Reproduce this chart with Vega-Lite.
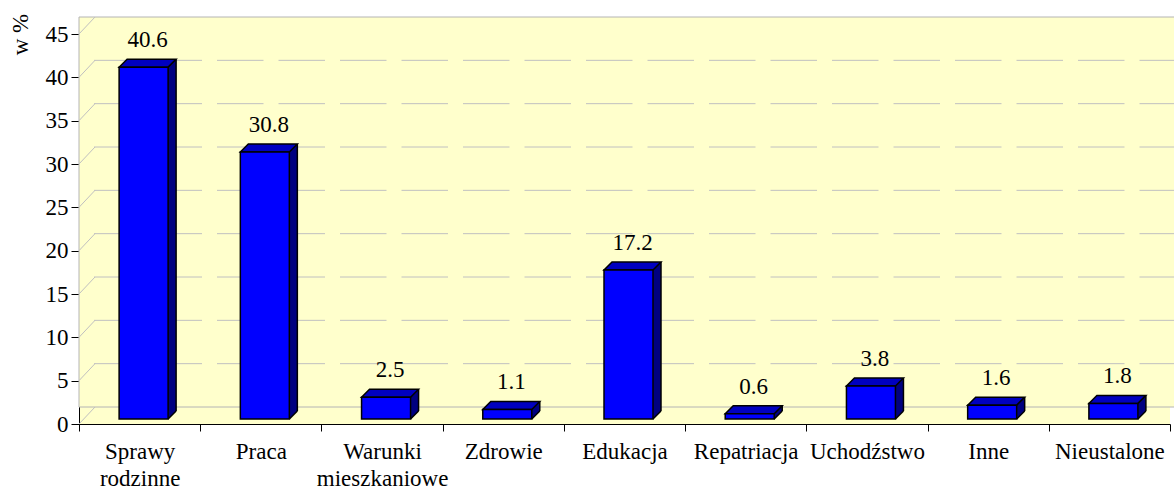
{
  "$schema": "https://vega.github.io/schema/vega-lite/v6.json",
  "width": 1091,
  "height": 390,
  "autosize": {"type": "none"},
  "padding": {"left": 79, "top": 34, "right": 4, "bottom": 67},
  "background": "white",
  "config": {
    "view": {"stroke": null, "fill": "#FFFFCC"},
    "font": "Liberation Serif",
    "text": {"font": "Liberation Serif", "fontWeight": "normal"},
    "axis": {
      "labelFont": "Liberation Serif",
      "titleFont": "Liberation Serif",
      "labelFontWeight": "normal",
      "titleFontWeight": "normal",
      "labelColor": "black",
      "titleColor": "black",
      "labelFontSize": 23,
      "titleFontSize": 23,
      "domainColor": "black",
      "tickColor": "black",
      "grid": false
    }
  },
  "datasets": {
    "bars": [
      {"k": "Sprawy rodzinne", "v": 40.6},
      {"k": "Praca", "v": 30.8},
      {"k": "Warunki mieszkaniowe", "v": 2.5},
      {"k": "Zdrowie", "v": 1.1},
      {"k": "Edukacja", "v": 17.2},
      {"k": "Repatriacja", "v": 0.6},
      {"k": "Uchodźstwo", "v": 3.8},
      {"k": "Inne", "v": 1.6},
      {"k": "Nieustalone", "v": 1.8}
    ],
    "grid": [{"g": 5}, {"g": 10}, {"g": 15}, {"g": 20}, {"g": 25}, {"g": 30}, {"g": 35}, {"g": 40}],
    "walls": [{"g": 0}, {"g": 5}, {"g": 10}, {"g": 15}, {"g": 20}, {"g": 25}, {"g": 30}, {"g": 35}, {"g": 40}, {"g": 45}],
    "one": [{"g": 45}]
  },
  "layer": [
    {
      "data": {"name": "one"},
      "mark": {"type": "rect", "fill": "#FFFFCC", "stroke": "#B4B4B4", "strokeWidth": 1, "xOffset": 16, "x2Offset": 16, "yOffset": -17, "y2Offset": -17},
      "encoding": {
        "y": {"field": "g", "type": "quantitative", "scale": {"domain": [0, 45], "nice": false}, "axis": {"title": "w %", "values": [0, 5, 10, 15, 20, 25, 30, 35, 40, 45], "tickSize": 8, "labelPadding": 3, "labelFont": "Liberation Serif", "labelFontWeight": "normal", "titleAngle": -90, "titleX": -59, "titleY": 0, "titleAlign": "center", "titleBaseline": "middle", "titleFontWeight": "normal"}},
        "y2": {"datum": 0}
      }
    },
    {
      "data": {"name": "one"},
      "mark": {"type": "point", "shape": "M 0 0 L 16 -17 L 16 0 Z", "size": 4, "filled": true, "fill": "#FFFFCC", "strokeWidth": 0, "opacity": 1},
      "encoding": {
        "x": {"datum": "Sprawy rodzinne", "type": "nominal", "bandPosition": 0},
        "y": {"field": "g", "type": "quantitative"}
      }
    },
    {
      "data": {"name": "grid"},
      "mark": {"type": "rule", "stroke": "#C0C0C0", "strokeWidth": 1, "strokeDash": [46.5, 15], "xOffset": 16, "x2Offset": 16, "yOffset": -17, "y2Offset": -17},
      "encoding": {
        "y": {"field": "g", "type": "quantitative"}
      }
    },
    {
      "data": {"name": "walls"},
      "mark": {"type": "point", "shape": "M 0 0 L 16 -17", "size": 4, "filled": false, "stroke": "#C0C0C0", "strokeWidth": 1, "opacity": 1},
      "encoding": {
        "x": {"datum": "Sprawy rodzinne", "type": "nominal", "bandPosition": 0},
        "y": {"field": "g", "type": "quantitative"}
      }
    },
    {
      "data": {"name": "bars"},
      "mark": {"type": "bar", "fill": "#000080", "strokeWidth": 0, "size": 49, "xOffset": 12, "x2Offset": 12, "yOffset": -13, "y2Offset": -13},
      "encoding": {
        "x": {"field": "k", "type": "nominal", "sort": null, "scale": {"paddingInner": 0, "paddingOuter": 0},
          "axis": {"title": null, "labelAngle": 0, "labelAlign": "center", "labelFont": "Liberation Serif", "labelFontWeight": "normal", "labelExpr": "split(datum.label, ' ')", "tickBand": "extent", "tickSize": 7, "labelPadding": 27, "labelBaseline": "alphabetic", "labelLineHeight": 27, "labelOverlap": false, "labelBound": false, "labelFlush": false}},
        "y": {"field": "v", "type": "quantitative"}
      }
    },
    {
      "data": {"name": "bars"},
      "mark": {"type": "point", "shape": "M 24.5 0 L 32.5 -8 L 24.5 -8 Z", "size": 4, "filled": true, "fill": "#000080", "strokeWidth": 0, "opacity": 1, "xOffset": 4, "yOffset": -5},
      "encoding": {
        "x": {"field": "k", "type": "nominal", "sort": null},
        "y": {"datum": 0}
      }
    },
    {
      "data": {"name": "bars"},
      "mark": {"type": "rule", "stroke": "black", "strokeWidth": 1.5, "xOffset": 36.5, "x2Offset": 36.5, "yOffset": -13, "y2Offset": -13},
      "encoding": {
        "x": {"field": "k", "type": "nominal", "sort": null},
        "y": {"field": "v", "type": "quantitative"},
        "y2": {"datum": 0}
      }
    },
    {
      "data": {"name": "bars"},
      "mark": {"type": "point", "shape": "M 24.5 0 L 32.5 -8", "size": 4, "filled": false, "stroke": "black", "strokeWidth": 1.5, "opacity": 1, "xOffset": 4, "yOffset": -5},
      "encoding": {
        "x": {"field": "k", "type": "nominal", "sort": null},
        "y": {"datum": 0}
      }
    },
    {
      "data": {"name": "bars"},
      "mark": {"type": "point", "shape": "M -24.5 0 L 24.5 0 L 32.5 -8 L -16.5 -8 Z", "size": 4, "filled": true, "fill": "#0000C0", "stroke": "black", "strokeWidth": 1.5, "opacity": 1, "xOffset": 4, "yOffset": -5},
      "encoding": {
        "x": {"field": "k", "type": "nominal", "sort": null},
        "y": {"field": "v", "type": "quantitative"}
      }
    },
    {
      "data": {"name": "bars"},
      "mark": {"type": "bar", "fill": "#0000FF", "stroke": "black", "strokeWidth": 1.5, "size": 49, "xOffset": 4, "x2Offset": 4, "yOffset": -5, "y2Offset": -5},
      "encoding": {
        "x": {"field": "k", "type": "nominal", "sort": null},
        "y": {"field": "v", "type": "quantitative"}
      }
    },
    {
      "data": {"name": "bars"},
      "mark": {"type": "text", "font": "Liberation Serif", "fontWeight": "normal", "fontSize": 23, "color": "black", "baseline": "alphabetic", "align": "center", "xOffset": 8, "yOffset": -25},
      "encoding": {
        "x": {"field": "k", "type": "nominal", "sort": null},
        "y": {"field": "v", "type": "quantitative"},
        "text": {"field": "v", "type": "quantitative", "format": ".1f"}
      }
    }
  ]
}
